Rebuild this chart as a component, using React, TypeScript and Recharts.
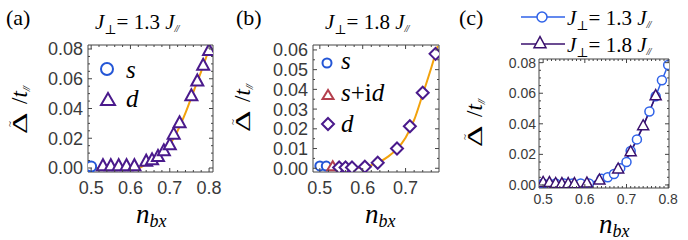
import React from 'react';
import { ComposedChart, Scatter, Line, XAxis, YAxis } from 'recharts';

// J_perp = 1.3 J_par : panel (a) and the blue curve of (c)
const nS13 = [0.5];
const vS13 = [0.001];
const nD13 = [0.53, 0.55, 0.57, 0.59, 0.61, 0.64, 0.655, 0.67, 0.685, 0.7, 0.71, 0.725, 0.755, 0.77, 0.785, 0.8];
const vD13 = [0.001, 0.001, 0.001, 0.001, 0.001, 0.004, 0.005, 0.0072, 0.011, 0.015, 0.0222, 0.0298, 0.048, 0.058, 0.0685, 0.0785];
const nFit13 = [0.5, 0.62, 0.64, 0.66, 0.68, 0.7, 0.72, 0.74, 0.76, 0.78, 0.8];
const vFit13 = [0, 0, 0.0025, 0.0055, 0.01, 0.0158, 0.025, 0.037, 0.051, 0.065, 0.08];

// J_perp = 1.8 J_par : panel (b) and the purple curve of (c)
const nS18 = [0.5, 0.515];
const vS18 = [0.0012, 0.0011];
const nSid18 = [0.53];
const vSid18 = [0.0005];
const nD18 = [0.545, 0.56, 0.575, 0.605, 0.635, 0.68, 0.71, 0.74, 0.77];
const vD18 = [0.0004, 0.0004, 0.0004, 0.0008, 0.0028, 0.01, 0.0213, 0.0383, 0.058];
const nFit18 = [0.5, 0.58, 0.6, 0.62, 0.64, 0.66, 0.68, 0.7, 0.72, 0.74, 0.76, 0.775];
const vFit18 = [0, 0, 0.0006, 0.0016, 0.0033, 0.006, 0.0098, 0.0155, 0.0245, 0.0375, 0.051, 0.062];

const xMajA = [0.5, 0.6, 0.7, 0.8];
const xMajB = [0.5, 0.6, 0.7];
const yMajA = [0, 0.02, 0.04, 0.06, 0.08];
const yMajB = [0, 0.01, 0.02, 0.03, 0.04, 0.05, 0.06];

const BLUE = '#2456d6';
const PURPLE = '#4a1a8c';
const ORANGE = '#f2a20c';
const RED = '#b4404e';
const C_BLUE = '#2f62e8';
const C_PURPLE = '#3a106e';
const FRAME = '#444';
const SERIF = 'Liberation Serif, Times New Roman, Times, DejaVu Serif, serif';
const SANS = 'Liberation Sans, Arial, sans-serif';

const pts = (ns: number[], vs: number[]) => ns.map((n, i) => ({ n, v: vs[i] }));
const range = (a: number, b: number, s: number) => {
  const out: number[] = [];
  for (let k = 0; a + k * s <= b + 1e-9; k++) out.push(+(a + k * s).toFixed(4));
  return out;
};

function axisTick(side: string, majors: number[], fs: number, gap: number, fmt?: (v: number) => string) {
  return (p: any) => {
    const { x, y, payload } = p;
    const v = payload.value;
    const major = majors.some((m) => Math.abs(m - v) < 1e-6);
    const len = major ? 4 : 2;
    let l = { x1: x, y1: y, x2: x, y2: y };
    if (side === 'bottom') l.y2 = y - len;
    if (side === 'top') l.y2 = y + len;
    if (side === 'left') l.x2 = x + len;
    if (side === 'right') l.x2 = x - len;
    return (
      <g>
        <line {...l} stroke={FRAME} strokeWidth={1} />
        {major && fmt && side === 'bottom' && (
          <text x={x} y={y + gap} textAnchor="middle" style={{ fontFamily: SANS }} fontSize={fs} fill="#3a3a3a">{fmt(v)}</text>
        )}
        {major && fmt && side === 'left' && (
          <text x={x - gap} y={y + fs * 0.36} textAnchor="end" style={{ fontFamily: SANS }} fontSize={fs} fill="#3a3a3a">{fmt(v)}</text>
        )}
      </g>
    );
  };
}

function frameAxes(o: any) {
  const common = { type: 'number' as const, allowDataOverflow: true, interval: 0 as const, tickSize: 0, tickMargin: 0, tickLine: false, axisLine: { stroke: FRAME, strokeWidth: 1 } };
  const xt = [...new Set([...o.xMaj, ...o.xMin])].sort();
  const yt = [...new Set([...o.yMaj, ...o.yMin])].sort();
  return [
    <XAxis key="xb" xAxisId="b" dataKey="n" domain={o.xDom} ticks={xt} height={1} {...common}
      tick={axisTick('bottom', o.xMaj, o.fs, o.xGap, (v) => v.toFixed(1))} />,
    <XAxis key="xt" xAxisId="t" dataKey="n" orientation="top" domain={o.xDom} ticks={xt} height={1} {...common}
      tick={axisTick('top', o.xMaj, o.fs, 0)} />,
    <YAxis key="yl" yAxisId="l" dataKey="v" domain={o.yDom} ticks={yt} width={1} {...common}
      tick={axisTick('left', o.yMaj, o.fs, o.yGap, (v) => v.toFixed(2))} />,
    <YAxis key="yr" yAxisId="r" dataKey="v" orientation="right" domain={o.yDom} ticks={yt} width={1} {...common}
      tick={axisTick('right', o.yMaj, o.fs, 0)} />,
  ];
}

const circ = (c: string, r: number, sw: number) => (p: any) => (
  <circle cx={p.cx} cy={p.cy} r={r} fill="#fff" stroke={c} strokeWidth={sw} />
);
const tri = (c: string, w: number, h: number, sw: number) => (p: any) => (
  <polygon
    points={`${p.cx},${p.cy - (h * 2) / 3} ${p.cx - w / 2},${p.cy + h / 3} ${p.cx + w / 2},${p.cy + h / 3}`}
    fill="#fff" stroke={c} strokeWidth={sw} strokeLinejoin="miter" />
);
const dia = (c: string, s: number, sw: number) => (p: any) => (
  <polygon points={`${p.cx},${p.cy - s} ${p.cx + s},${p.cy} ${p.cx},${p.cy + s} ${p.cx - s},${p.cy}`}
    fill="#fff" stroke={c} strokeWidth={sw} />
);

const serif = { fontFamily: SERIF, whiteSpace: 'pre' as const };

function JLabel({ x, y, val, fs }: { x: number; y: number; val: string; fs: number }) {
  return (
    <text x={x} y={y} style={serif} fontSize={fs} fill="#000">
      <tspan fontStyle="italic">J</tspan>
      <tspan fontSize={fs * 0.62} dy={fs * 0.22}>⊥</tspan>
      <tspan dy={-fs * 0.22}>{`= ${val} `}</tspan>
      <tspan fontStyle="italic">J</tspan>
      <tspan fontSize={fs * 0.5} dy={fs * 0.15} fontStyle="italic" letterSpacing={-1}>//</tspan>
    </text>
  );
}

// rotated y label: tilde-Delta / t_par, reading upwards from (x, y0)
function YLab({ x, y0 }: { x: number; y0: number }) {
  return (
    <g transform={`translate(${x},${y0}) rotate(-90)`} style={serif}>
      <text x={0} y={0} fontSize={21} transform="scale(1.6,1)">Δ</text>
      <text x={10} y={-14} fontSize={11} textAnchor="middle">~</text>
      <text x={30} y={0} fontSize={23}>
        <tspan>/</tspan>
        <tspan fontStyle="italic">t</tspan>
        <tspan fontSize={11} dy={3} fontStyle="italic" letterSpacing={-1}>//</tspan>
      </text>
    </g>
  );
}

function XLab({ x, y }: { x: number; y: number }) {
  return (
    <text x={x} y={y} style={serif} fontStyle="italic">
      <tspan fontSize={27}>n</tspan>
      <tspan fontSize={18} dy={4}>bx</tspan>
    </text>
  );
}

const legendText = (x: number, y: number, s: React.ReactNode) => (
  <text x={x} y={y} style={serif} fontSize={25} fontStyle="italic">{s}</text>
);

export default function App() {
  const ids = { xAxisId: 'b', yAxisId: 'l', isAnimationActive: false };
  return (
    <div style={{ position: 'absolute', left: 0, top: 0, width: 688, height: 240, background: '#fff' }}>
      <div style={{ position: 'absolute', left: 0, top: 0 }}>
        <ComposedChart width={228} height={240} margin={{ top: 44, left: 87, right: 14, bottom: 67 }}>
          {frameAxes({ xDom: [0.492, 0.81], yDom: [-0.0027, 0.0827], xMaj: xMajA, xMin: range(0.5, 0.8, 0.02), yMaj: yMajA, yMin: range(0, 0.08, 0.005), fs: 18, xGap: 22, yGap: 5 })}
          <Line {...ids} data={pts(nFit13, vFit13)} dataKey="v" type="monotone" stroke={ORANGE} strokeWidth={2} dot={false} />
          <Scatter {...ids} data={pts(nS13, vS13)} shape={circ(BLUE, 5, 2)} />
          <Scatter {...ids} data={pts(nD13, vD13)} shape={tri(PURPLE, 12, 11, 2)} />
        </ComposedChart>
      </div>
      <div style={{ position: 'absolute', left: 228, top: 0 }}>
        <ComposedChart width={228} height={240} margin={{ top: 44, left: 84, right: 16, bottom: 67 }}>
          {frameAxes({ xDom: [0.484, 0.778], yDom: [-0.0019, 0.0625], xMaj: xMajB, xMin: range(0.5, 0.77, 0.02), yMaj: yMajB, yMin: range(0, 0.06, 0.005), fs: 18, xGap: 22, yGap: 5 })}
          <Line {...ids} data={pts(nFit18, vFit18)} dataKey="v" type="monotone" stroke={ORANGE} strokeWidth={2} dot={false} />
          <Scatter {...ids} data={pts(nS18, vS18)} shape={circ(BLUE, 4.5, 2)} />
          <Scatter {...ids} data={pts(nSid18, vSid18)} shape={tri(RED, 11, 9, 2)} />
          <Scatter {...ids} data={pts(nD18, vD18)} shape={dia(PURPLE, 6, 2)} />
        </ComposedChart>
      </div>
      <div style={{ position: 'absolute', left: 456, top: 0 }}>
        <ComposedChart width={232} height={240} margin={{ top: 58, left: 82, right: 18, bottom: 51 }}>
          {frameAxes({ xDom: [0.49, 0.802], yDom: [-0.002, 0.0824], xMaj: xMajA, xMin: range(0.5, 0.8, 0.01), yMaj: yMajA, yMin: range(0, 0.08, 0.005), fs: 14, xGap: 16, yGap: 3 })}
          <Line {...ids} data={pts([...nS13, ...nD13], [...vS13, ...vD13])} dataKey="v" type="linear" stroke={C_BLUE} strokeWidth={1.5}
            dot={(p: any) => <circle key={p.index} cx={p.cx} cy={p.cy} r={4.5} fill="#fff" stroke={C_BLUE} strokeWidth={1.5} />} />
          <Line {...ids} data={pts([...nS18, ...nSid18, ...nD18], [...vS18, ...vSid18, ...vD18])} dataKey="v" type="linear" stroke={C_PURPLE} strokeWidth={1.5}
            dot={(p: any) => <g key={p.index}>{tri(C_PURPLE, 11, 10, 1.5)(p)}</g>} />
        </ComposedChart>
      </div>
      <svg width={688} height={240} style={{ position: 'absolute', left: 0, top: 0, pointerEvents: 'none' }}>
        <text x={6} y={25} style={serif} fontSize={22}>(a)</text>
        <text x={236} y={25} style={serif} fontSize={22}>(b)</text>
        <text x={459} y={25} style={serif} fontSize={22}>(c)</text>
        <JLabel x={95} y={29} val="1.3" fs={21} />
        <JLabel x={325} y={29} val="1.8" fs={21} />
        {/* legend a */}
        {circ(BLUE, 6, 2)({ cx: 107, cy: 69 })}
        {legendText(126, 78, 's')}
        {tri(PURPLE, 14, 12, 2)({ cx: 108, cy: 101 })}
        {legendText(126, 107, 'd')}
        {/* legend b */}
        {circ(BLUE, 4.5, 2)({ cx: 327, cy: 63 })}
        {legendText(341, 69, 's')}
        {tri(RED, 11, 9, 2)({ cx: 328, cy: 96 })}
        <text x={341} y={101} style={serif} fontSize={25}>
          <tspan fontStyle="italic">s</tspan>+i<tspan fontStyle="italic">d</tspan>
        </text>
        {dia(PURPLE, 6, 2)({ cx: 328, cy: 124 })}
        {legendText(341, 132, 'd')}
        {/* legend c */}
        <line x1={521} y1={17} x2={565} y2={17} stroke={C_BLUE} strokeWidth={1.5} />
        {circ(C_BLUE, 5, 1.5)({ cx: 542, cy: 17 })}
        <JLabel x={567} y={25} val="1.3" fs={21} />
        <line x1={521} y1={44} x2={565} y2={44} stroke={C_PURPLE} strokeWidth={1.5} />
        {tri(C_PURPLE, 12, 11, 1.5)({ cx: 540, cy: 44 })}
        <JLabel x={567} y={52} val="1.8" fs={21} />
        <YLab x={27} y0={134} />
        <YLab x={250} y0={132} />
        <YLab x={482} y0={147} />
        <XLab x={136} y={223} />
        <XLab x={365} y={223} />
        <XLab x={599} y={233} />
      </svg>
    </div>
  );
}
